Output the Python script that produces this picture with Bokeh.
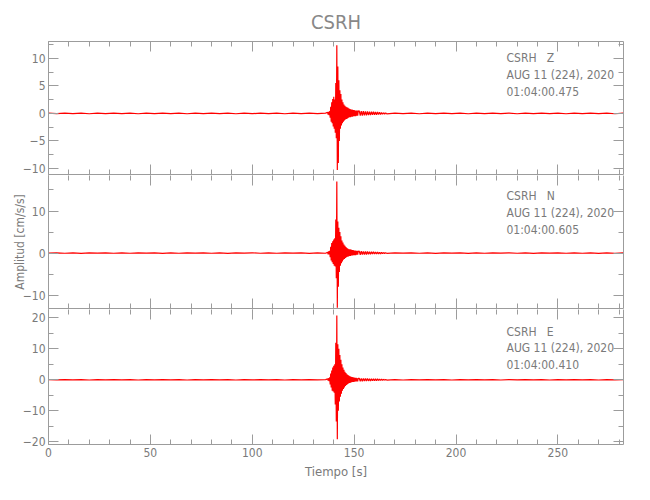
import math
from bokeh.plotting import figure
from bokeh.layouts import column
from bokeh.models import Range1d, LinearAxis, SingleIntervalTicker, Label, Title
from bokeh.embed import file_html
from bokeh.resources import INLINE

# ---------------- data ----------------
station = "CSRH"
components = ["Z", "N", "E"]
date_line = "AUG 11 (224), 2020"
start_times = ["01:04:00.475", "01:04:00.605", "01:04:00.410"]

t_pre = [0, 4, 8, 12, 16, 20, 24, 28, 32, 36, 40, 44, 48, 52, 56, 60, 64, 68, 72, 76,
         80, 84, 88, 92, 96, 100, 104, 108, 112, 116, 120, 124, 128, 132, 136]
t_event = [137.0, 137.25, 137.5, 137.75, 138.0, 138.25, 138.5, 138.75,
           139.0, 139.25, 139.5, 139.75, 140.0, 140.25, 140.5, 140.75,
           141.0, 141.25, 141.5, 141.75, 142.0, 142.25, 142.5, 142.75,
           143.0, 143.25, 143.5, 143.75, 144.0, 144.25, 144.5, 144.75,
           145.0, 145.25, 145.5, 145.75, 146.0, 146.25, 146.5, 146.75,
           147.0, 147.25, 147.5, 147.75, 148.0, 148.25, 148.5, 148.75,
           149.0, 149.25, 149.5, 149.75, 150.0, 150.25, 150.5, 150.75,
           151.0, 151.25, 151.5, 151.75, 152.0]
t_post = [152.5, 153.0, 153.5, 154.0, 154.5, 155.0, 155.5, 156.0, 156.5, 157.0,
          157.5, 158.0, 158.5, 159.0, 159.5, 160.0, 160.5, 161.0, 161.5, 162.0,
          162.5, 163.0, 163.5, 164.0, 164.5, 165.0, 165.5, 166.0]
t_tail = [170, 174, 178, 182, 186, 190, 194, 198, 202, 206, 210, 214, 218, 222, 226,
          230, 234, 238, 242, 246, 250, 254, 258, 262, 266, 270, 274, 278, 282]

z_pre = [0.05, -0.04, 0.06, -0.05, 0.04, -0.06, 0.05, -0.04, 0.06, -0.05, 0.04, -0.06, 0.05, -0.04, 0.06,
         -0.05, 0.05, -0.06, 0.04, -0.05, 0.06, -0.04, 0.05, -0.06, 0.04, -0.05, 0.06, -0.05, 0.04, -0.06,
         0.05, -0.04, 0.06, -0.05, 0.05]
z_event = [0.2, -0.2, 0.3, -0.3, 0.4, -0.8, 1.2, -1.5, 2.0, -1.8, 2.6, -2.4,
           3.0, -2.8, 2.5, -3.5, 5.5, -4.5, 12.4, -10.3, 8.5, -9.0, 6.0, -5.0,
           4.2, -2.8, 3.5, -2.2, 2.5, -1.8, 2.0, -1.5, 1.6, -1.3, 1.4, -1.1,
           1.2, -1.0, 1.1, -0.9, 1.0, -0.8, 0.9, -0.7, 0.8, -0.7, 0.7, -0.6,
           0.7, -0.6, 0.6, -0.5, 0.6, -0.5, 0.5, -0.5, 0.5, -0.4, 0.5, -0.4, 0.4]
z_post = [0.45, -0.4, 0.4, -0.4, 0.4, -0.35, 0.35, -0.35, 0.35, -0.3, 0.3, -0.3, 0.3, -0.25,
          0.3, -0.25, 0.25, -0.25, 0.25, -0.2, 0.2, -0.2, 0.15, -0.15, 0.12, -0.12, 0.1, -0.08]
z_tail = [0.06, -0.05, 0.05, -0.06, 0.04, -0.05, 0.06, -0.04, 0.05, -0.06, 0.04, -0.05, 0.06, -0.05, 0.04,
          -0.06, 0.05, -0.04, 0.06, -0.05, 0.05, -0.06, 0.04, -0.05, 0.06, -0.04, 0.05, -0.06, 0.04]

n_pre = [-0.04, 0.05, -0.05, 0.04, -0.06, 0.05, -0.04, 0.06, -0.05, 0.04, -0.05, 0.06, -0.04, 0.05, -0.06,
         0.04, -0.05, 0.05, -0.04, 0.06, -0.05, 0.04, -0.06, 0.05, -0.04, 0.06, -0.05, 0.04, -0.05, 0.06,
         -0.04, 0.05, -0.06, 0.04, -0.05]
n_event = [0.2, -0.3, 0.4, -0.3, 0.5, -1.0, 1.5, -1.8, 2.4, -2.2, 2.8, -2.6,
           3.2, -3.0, 3.5, -3.2, 8.0, -6.0, 17.0, -13.0, 7.5, -8.0, 6.0, -4.5,
           5.0, -3.0, 4.0, -2.4, 3.0, -2.0, 2.5, -1.6, 2.0, -1.4, 1.7, -1.2,
           1.4, -1.0, 1.2, -0.9, 1.0, -0.8, 0.9, -0.7, 0.9, -0.7, 0.8, -0.6,
           0.7, -0.6, 0.7, -0.5, 0.6, -0.5, 0.6, -0.5, 0.5, -0.4, 0.5, -0.4, 0.4]
n_post = [0.45, -0.4, 0.45, -0.35, 0.4, -0.35, 0.35, -0.35, 0.35, -0.3, 0.3, -0.3, 0.3, -0.25,
          0.3, -0.25, 0.25, -0.25, 0.25, -0.2, 0.2, -0.2, 0.15, -0.15, 0.12, -0.1, 0.1, -0.08]
n_tail = [0.05, -0.04, 0.06, -0.05, 0.04, -0.06, 0.05, -0.04, 0.05, -0.06, 0.04, -0.05, 0.06, -0.04, 0.05,
          -0.05, 0.04, -0.06, 0.05, -0.04, 0.06, -0.05, 0.04, -0.05, 0.05, -0.06, 0.04, -0.05, 0.04]

e_pre = [0.06, -0.05, 0.07, -0.06, 0.05, -0.07, 0.06, -0.05, 0.07, -0.06, 0.05, -0.07, 0.06, -0.05, 0.07,
         -0.06, 0.06, -0.07, 0.05, -0.06, 0.07, -0.05, 0.06, -0.07, 0.05, -0.06, 0.07, -0.05, 0.06, -0.07,
         0.06, -0.05, 0.07, -0.06, 0.06]
e_event = [0.3, -0.3, 0.5, -0.4, 0.8, -1.5, 2.0, -2.5, 3.0, -3.5, 4.0, -3.8,
           4.5, -4.2, 5.0, -8.0, 12.0, -13.5, 20.8, -19.2, 11.5, -10.0, 10.0, -7.0,
           8.0, -5.5, 6.5, -4.5, 5.0, -3.5, 4.0, -3.0, 3.2, -2.5, 2.6, -2.0,
           2.2, -1.7, 1.8, -1.4, 1.5, -1.2, 1.3, -1.0, 1.1, -0.9, 1.0, -0.8,
           0.9, -0.7, 0.8, -0.7, 0.7, -0.6, 0.6, -0.5, 0.6, -0.5, 0.5, -0.5, 0.5]
e_post = [0.5, -0.45, 0.45, -0.45, 0.45, -0.4, 0.4, -0.4, 0.4, -0.35, 0.35, -0.35, 0.35, -0.3,
          0.3, -0.3, 0.3, -0.3, 0.3, -0.25, 0.25, -0.2, 0.2, -0.15, 0.15, -0.12, 0.1, -0.08]
e_tail = [0.06, -0.07, 0.05, -0.06, 0.07, -0.05, 0.06, -0.07, 0.06, -0.05, 0.07, -0.06, 0.05, -0.07, 0.06,
          -0.06, 0.07, -0.05, 0.06, -0.07, 0.05, -0.06, 0.07, -0.05, 0.06, -0.07, 0.06, -0.05, 0.04]

y_ranges = [(-11.1, 13.06), (-13.2, 18.45), (-20.9, 22.7)]
y_major = [5, 10, 10]
y_minor = [2, 2, 2]
x_max = 282.2

# ---------------- styling ----------------
AX = "#9c9c9c"
TX = "#7a7a7a"
FONT = "Liberation Sans Narrow, DejaVu Sans Condensed, Roboto, sans-serif"
FRAME_W = 575
heights = [134, 133, 135]
tops = [40, 0, 0]
bottoms = [1, 1, 46]

t_all = t_pre + t_event + t_post + t_tail
series = [z_pre + z_event + z_post + z_tail,
          n_pre + n_event + n_post + n_tail,
          e_pre + e_event + e_post + e_tail]
for s in series:
    assert len(s) == len(t_all)

x_range = Range1d(0, x_max)


def style_axis(ax, labels, line=True):
    ax.axis_line_color = AX if line else None
    ax.major_tick_line_color = AX
    ax.minor_tick_line_color = AX
    ax.major_tick_in = 10
    ax.major_tick_out = 0
    ax.minor_tick_in = 5
    ax.minor_tick_out = 0
    ax.major_label_text_font = FONT
    if labels:
        ax.major_label_text_color = TX
        ax.major_label_text_font_size = "12px"
        ax.major_label_standoff = 3
    else:
        ax.major_label_text_color = None
        ax.major_label_text_font_size = "1px"
        ax.major_label_standoff = 0


figs = []
for i in range(3):
    ymin, ymax = y_ranges[i]
    fh = heights[i]
    p = figure(width=640, height=fh + tops[i] + bottoms[i], x_range=x_range,
               y_range=Range1d(ymin, ymax), output_backend="svg", toolbar_location=None,
               x_axis_location=None, y_axis_location=None,
               min_border_left=48, min_border_right=17,
               min_border_top=tops[i], min_border_bottom=bottoms[i])
    p.grid.visible = False
    p.outline_line_color = None
    p.background_fill_color = "white"
    p.border_fill_color = "white"

    if i == 0:
        p.title = Title(text=station, align="center", text_font=FONT, text_font_size="20px",
                        text_font_style="normal", text_color="#888888", standoff=15)

    for side in ["below", "above"]:
        ax = LinearAxis(ticker=SingleIntervalTicker(interval=50, num_minor_ticks=5))
        lab = (side == "below" and i == 2)
        style_axis(ax, lab, line=not (side == "above" and i > 0))
        if lab:
            ax.axis_label = "Tiempo [s]"
            ax.axis_label_text_font = FONT
            ax.axis_label_text_font_size = "13px"
            ax.axis_label_text_font_style = "normal"
            ax.axis_label_text_color = TX
            ax.axis_label_standoff = 4
        p.add_layout(ax, side)
    for side in ["left", "right"]:
        ax = LinearAxis(ticker=SingleIntervalTicker(interval=y_major[i], num_minor_ticks=y_minor[i]))
        style_axis(ax, side == "left")
        if side == "left" and i == 1:
            ax.axis_label = "Amplitud [cm/s/s]"
            ax.axis_label_text_font = FONT
            ax.axis_label_text_font_size = "12px"
            ax.axis_label_text_font_style = "normal"
            ax.axis_label_text_color = TX
            ax.axis_label_standoff = -7
        p.add_layout(ax, side)

    p.line(t_all, series[i], line_color="red", line_width=1.2)

    def dy(px, ymin=ymin, ymax=ymax, fh=fh):
        return ymax - px / fh * (ymax - ymin)

    def dx(px):
        return px / FRAME_W * x_max

    sp = "\u00a0\u00a0\u00a0"
    txt_lines = [f"{station}{sp}{components[i]}", date_line, start_times[i]]
    offs = [[17, 34, 51], [20, 37, 54], [22, 38, 55]][i]
    for t, o in zip(txt_lines, offs):
        p.add_layout(Label(x=dx(458), y=dy(o), text=t, text_font=FONT, text_font_size="12px",
                           text_color=TX, text_baseline="middle", text_align="left"))
    figs.append(p)

layout = column(*figs)
open("out.html", "w").write(file_html(layout, INLINE))
